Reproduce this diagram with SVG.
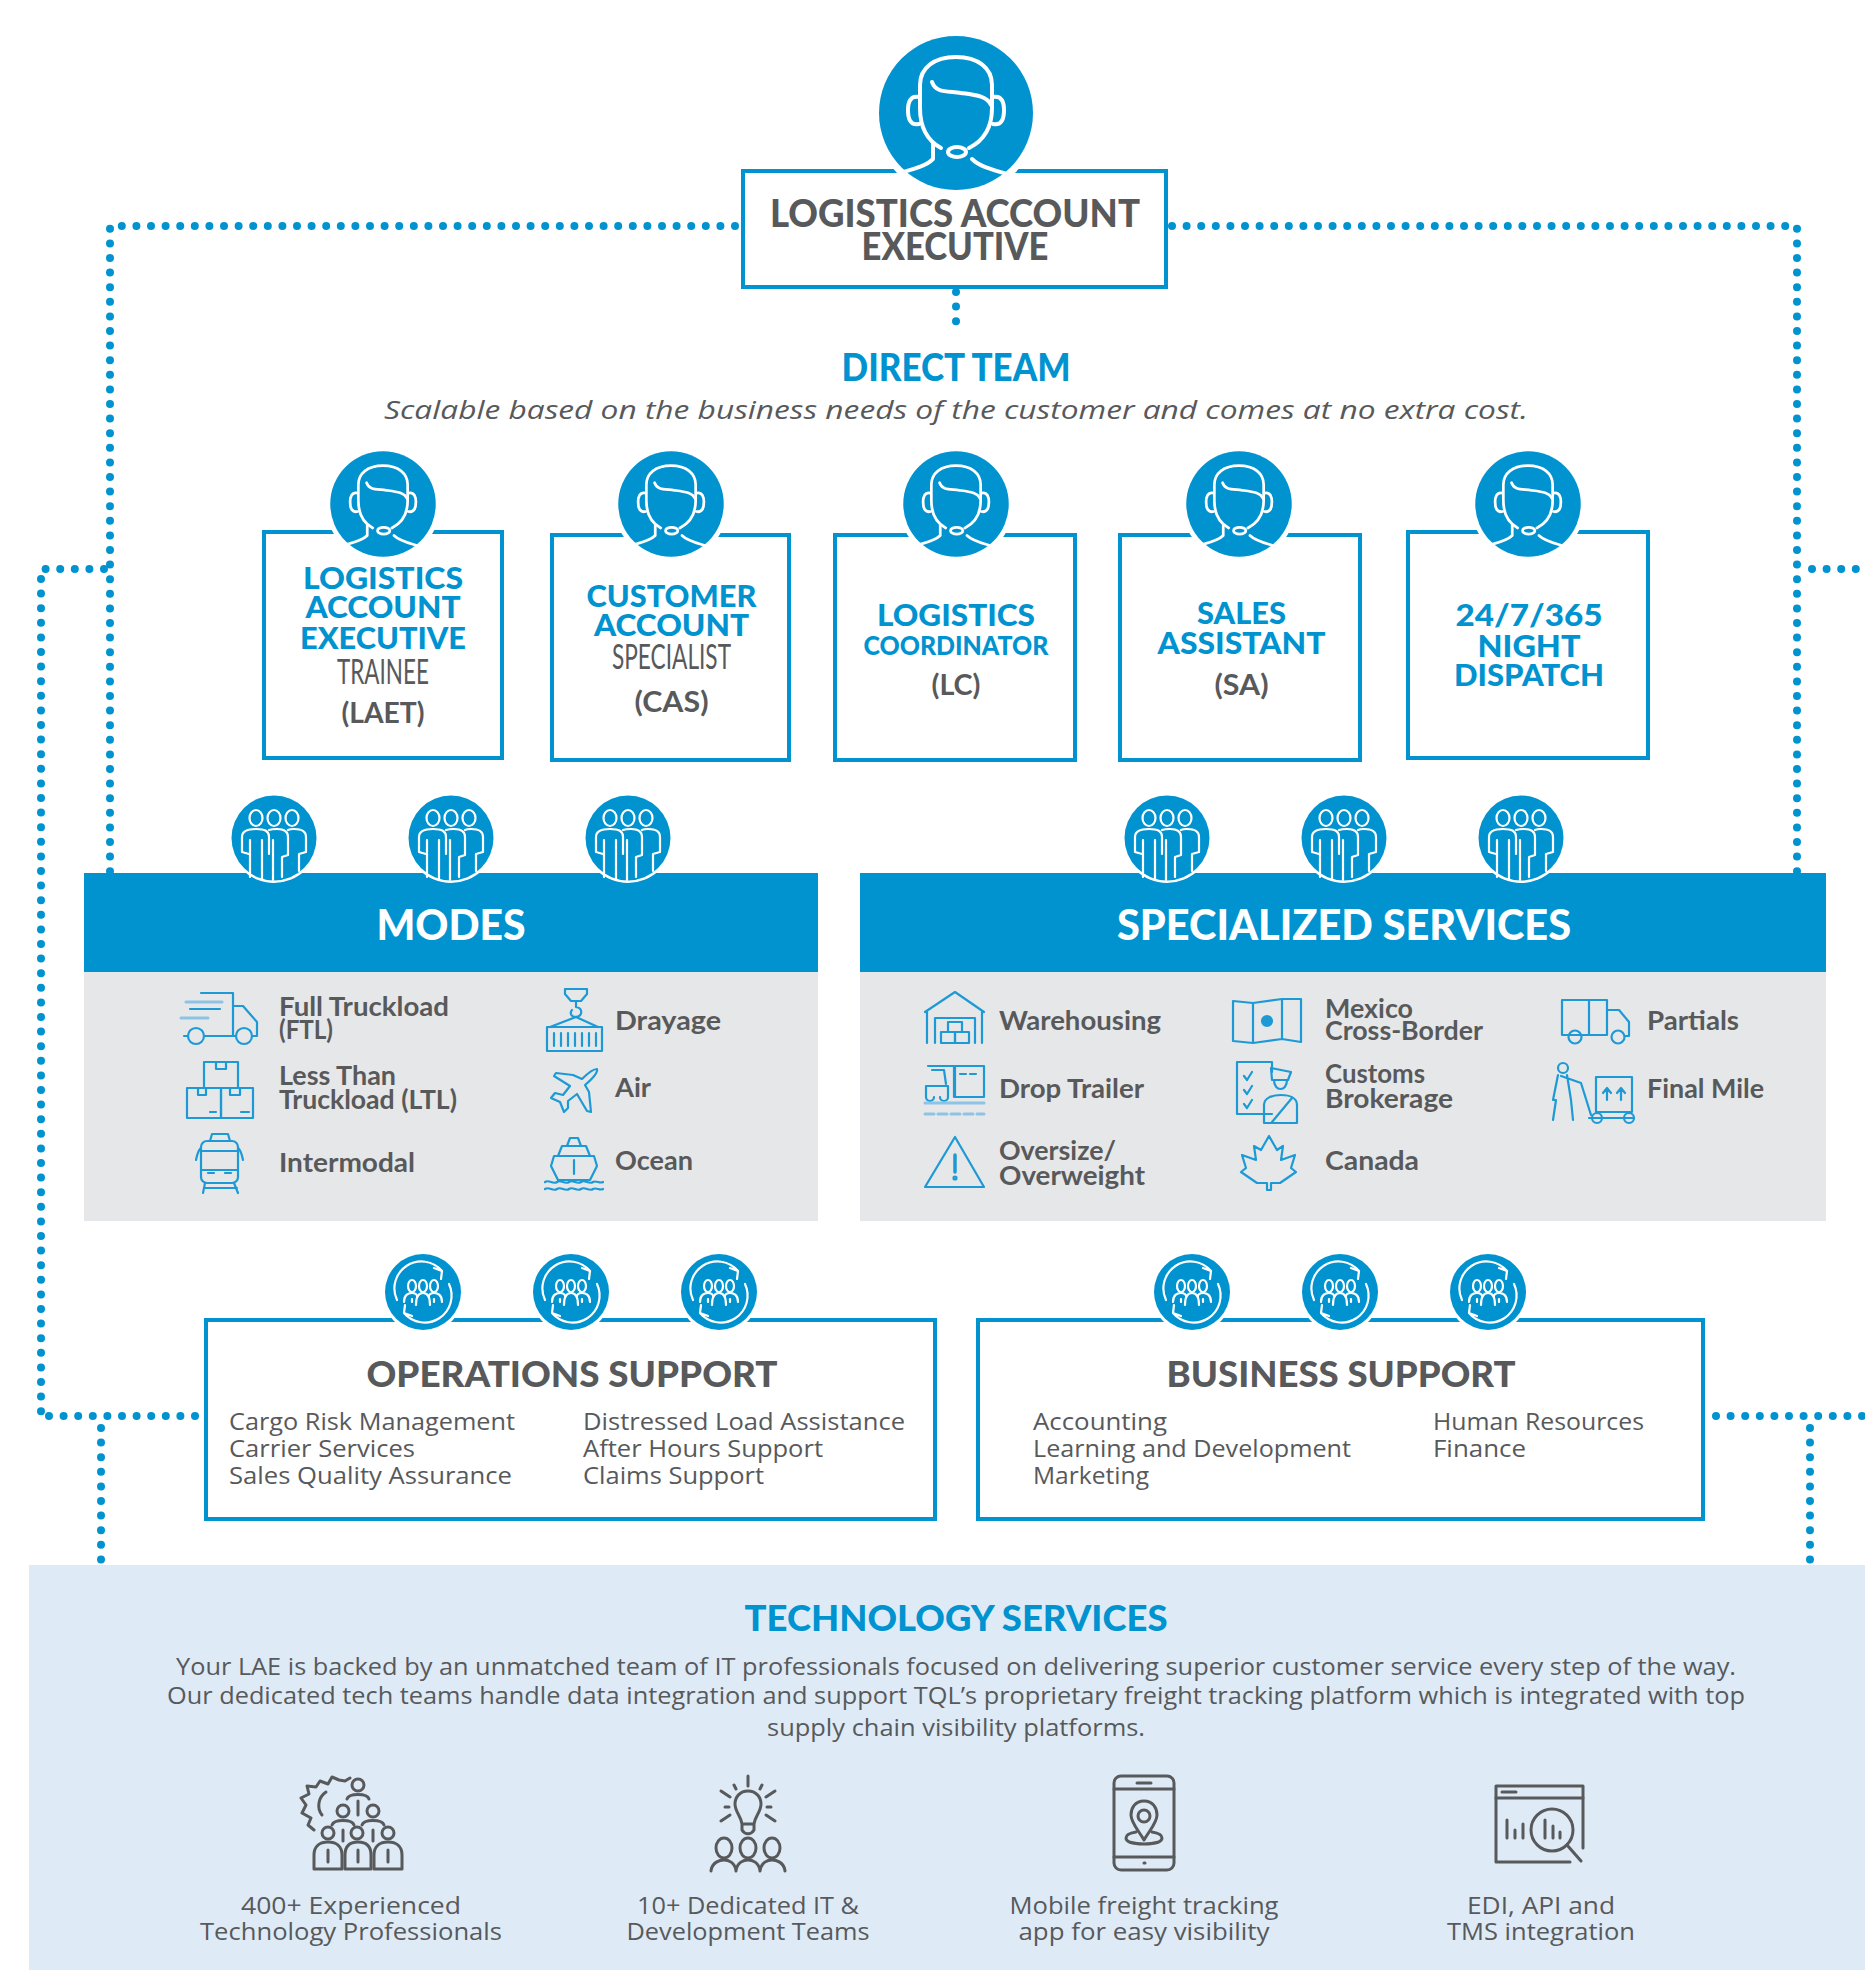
<svg xmlns="http://www.w3.org/2000/svg" xmlns:xlink="http://www.w3.org/1999/xlink" width="1865" height="1970" viewBox="0 0 1865 1970">
<style>
text{font-family:"Lato","Liberation Sans",sans-serif;fill:#58595b}
.m{text-anchor:middle}
.h{font-weight:900}
.b{font-weight:700}
.blue{fill:#0093d0}
.w{fill:#fff}
.big{font-size:38px;font-weight:900}
.t{font-size:31px;font-weight:900;fill:#0093d0;text-anchor:middle}
.n{font-size:35px;font-weight:400;text-anchor:middle;fill:#58595b}
.a{font-size:29px;font-weight:700;text-anchor:middle;fill:#58595b}
.i{font-size:26px;font-weight:700}
.l{font-family:"Open Sans","Liberation Sans",sans-serif;font-size:24px}
.p{font-family:"Open Sans","Liberation Sans",sans-serif;font-size:24px;text-anchor:middle}
.box{fill:#fff;stroke:#0093d0;stroke-width:4}
.dot{fill:none;stroke:#0093d0;stroke-width:8;stroke-linecap:round;stroke-dasharray:0 14.6}
.ic{fill:none;stroke:#1d9ad6;stroke-width:2.2;stroke-linejoin:round;stroke-linecap:round}
.lt{fill:none;stroke:#8cc4e6;stroke-width:3}
.g{fill:none;stroke:#58595b;stroke-width:3;stroke-linejoin:round;stroke-linecap:round}
.wl{fill:none;stroke:#fff;stroke-linecap:round;stroke-linejoin:round}
</style>
<defs>
<g id="agent">
<circle r="84" fill="#fff"/>
<circle r="77" fill="#0093d0"/>
<g class="wl" stroke-width="4">
<path d="M-15,35C-28,28-36,15-36,-5L-36,-28C-36,-45-22,-56 0,-56C22,-56 36,-45 36,-28L36,-5C36,15 27,28 13,35"/>
<path d="M-24,-31C-20,-20-10,-22 5,-20C20,-18 31,-17 35,-8"/>
<path d="M-37,-16C-46,-18-48,-10-48,-3C-48,5-46,13-37,11"/>
<path d="M37,-16C46,-18 48,-10 48,-3C48,5 46,13 37,11"/>
<ellipse cx="1" cy="39" rx="9" ry="5"/>
<path d="M-23,31L-23,46C-30,53-42,56-53,59"/>
<path d="M16,46C24,54 38,57 51,61"/>
</g>
</g>
<g id="team">
<circle r="45" fill="#fff"/>
<circle r="42.500" fill="#0093d0"/>
<g class="wl" stroke-width="2.2">
<ellipse cx="-18" cy="-20" rx="6.500" ry="8"/>
<ellipse cx="0" cy="-20" rx="6.500" ry="8"/>
<ellipse cx="18" cy="-20" rx="6.500" ry="8"/>
<path d="M-25,16L-32,14L-32,-1C-32,-7-27,-9-18,-9C-9,-9-5,-7-5,-1L-5,16"/>
<path d="M-24,2L-24,39M-12,2L-12,41"/>
<path d="M-5,-8C-2,-9 0,-9 3,-9C10,-9 14,-7 14,-1L14,17L8,19L8,39"/>
<path d="M-1,2L-1,42"/>
<path d="M14,-8C16,-9 18,-9 20,-9C28,-9 32,-7 32,-1L32,14L25,16L25,33"/>
</g>
</g>
<g id="sync">
<circle r="41" fill="#fff"/>
<circle r="38" fill="#0093d0"/>
<g class="wl" stroke-width="2.2">
<path d="M-26,8A27,27 0 0 1 19,-21M19,-21L11,-24M19,-21L18,-13"/>
<path d="M26,-8A27,27 0 0 1 -19,21M-19,21L-11,24M-19,21L-18,13"/>
<ellipse cx="-11" cy="-6" rx="4" ry="6"/>
<ellipse cx="0" cy="-6" rx="4" ry="6"/>
<ellipse cx="11" cy="-6" rx="4" ry="6"/>
<path d="M-19,10C-19,3-15,1-11,1C-8,1-6,2-5.500,5M-11,10L-11,7"/>
<path d="M-7,13C-7,4-4,1 0,1C4,1 7,4 7,13"/>
<path d="M19,10C19,3 15,1 11,1C8,1 6,2 5.500,5M11,10L11,7"/>
</g>
</g>
</defs>

<rect width="1865" height="1970" fill="#fff"/>

<g id="connectors">
<path class="dot" d="M735,226L110,226L110,872"/>
<path class="dot" d="M1172,226L1797,226L1797,872"/>
<path class="dot" d="M956,292L956,335"/>
<path class="dot" d="M104,569L41,569L41,1416"/>
<path class="dot" d="M195,1416L41,1416"/>
<path class="dot" d="M101,1428L101,1562"/>
<path class="dot" d="M1812,569L1865,569"/>
<path class="dot" d="M1716,1416L1865,1416"/>
<path class="dot" d="M1810,1428L1810,1562"/>
</g>

<g id="lae">
<rect class="box" x="743" y="171" width="423" height="116"/>
<use href="#agent" transform="translate(956,113)"/>
<text class="big m"><tspan class="m" x="955" y="227" textLength="370" lengthAdjust="spacingAndGlyphs">LOGISTICS ACCOUNT</tspan><tspan class="m" x="955" y="260" textLength="187" lengthAdjust="spacingAndGlyphs">EXECUTIVE</tspan></text>
</g>

<g id="direct-team">
<text class="m h blue" font-size="38" x="956" y="381" textLength="229" lengthAdjust="spacingAndGlyphs">DIRECT TEAM</text>
<text class="m" x="956" y="419" font-size="26" font-style="italic" style="font-family:'Open Sans','Liberation Sans',sans-serif" textLength="1144" lengthAdjust="spacingAndGlyphs">Scalable based on the business needs of the customer and comes at no extra cost.</text>
</g>

<g id="laet">
<rect class="box" x="264" y="532" width="238" height="226"/>
<use href="#agent" transform="translate(383,504) scale(.685)"/>
<text class="t"><tspan class="t" x="383" y="589" textLength="160" lengthAdjust="spacingAndGlyphs">LOGISTICS</tspan><tspan class="t" x="383" y="618" textLength="155" lengthAdjust="spacingAndGlyphs">ACCOUNT</tspan><tspan class="t" x="383" y="649" textLength="166" lengthAdjust="spacingAndGlyphs">EXECUTIVE</tspan><tspan class="n" x="383" y="684" textLength="92" lengthAdjust="spacingAndGlyphs">TRAINEE</tspan><tspan class="a" x="383" y="723" textLength="83" lengthAdjust="spacingAndGlyphs">(LAET)</tspan></text>
</g>
<g id="cas">
<rect class="box" x="552" y="535" width="237" height="225"/>
<use href="#agent" transform="translate(671,504) scale(.685)"/>
<text class="t"><tspan class="t" x="671.500" y="607" textLength="170" lengthAdjust="spacingAndGlyphs">CUSTOMER</tspan><tspan class="t" x="671.500" y="636" textLength="155" lengthAdjust="spacingAndGlyphs">ACCOUNT</tspan><tspan class="n" x="671.500" y="669" textLength="119" lengthAdjust="spacingAndGlyphs">SPECIALIST</tspan><tspan class="a" x="671.500" y="712" textLength="74" lengthAdjust="spacingAndGlyphs">(CAS)</tspan></text>
</g>
<g id="lc">
<rect class="box" x="835" y="535" width="240" height="225"/>
<use href="#agent" transform="translate(956,504) scale(.685)"/>
<text class="t"><tspan class="t" x="956" y="626" textLength="158" lengthAdjust="spacingAndGlyphs">LOGISTICS</tspan><tspan class="t" style="font-size:26px" x="956" y="655" textLength="185" lengthAdjust="spacingAndGlyphs">COORDINATOR</tspan><tspan class="a" x="956" y="695" textLength="49" lengthAdjust="spacingAndGlyphs">(LC)</tspan></text>
</g>
<g id="sa">
<rect class="box" x="1120" y="535" width="240" height="225"/>
<use href="#agent" transform="translate(1239,504) scale(.685)"/>
<text class="t"><tspan class="t" x="1241.500" y="624" textLength="89" lengthAdjust="spacingAndGlyphs">SALES</tspan><tspan class="t" x="1241.500" y="654" textLength="168" lengthAdjust="spacingAndGlyphs">ASSISTANT</tspan><tspan class="a" x="1241.500" y="695" textLength="54" lengthAdjust="spacingAndGlyphs">(SA)</tspan></text>
</g>
<g id="dispatch">
<rect class="box" x="1408" y="532" width="240" height="226"/>
<use href="#agent" transform="translate(1528,504) scale(.685)"/>
<text class="t"><tspan class="t" x="1529" y="626" textLength="147" lengthAdjust="spacingAndGlyphs">24/7/365</tspan><tspan class="t" x="1529" y="657" textLength="103" lengthAdjust="spacingAndGlyphs">NIGHT</tspan><tspan class="t" x="1529" y="686" textLength="150" lengthAdjust="spacingAndGlyphs">DISPATCH</tspan></text>
</g>

<g id="modes">
<rect x="84" y="873" width="734" height="99" fill="#0093d0"/>
<rect x="84" y="972" width="734" height="249" fill="#e6e7e8"/>
<use href="#team" transform="translate(274,838)"/>
<use href="#team" transform="translate(451,838)"/>
<use href="#team" transform="translate(628,838)"/>
<text class="m h w" x="451" y="940" font-size="42" textLength="149" lengthAdjust="spacingAndGlyphs">MODES</text>
<g class="ic">
<path d="M201,993L233,993L233,1036M233,1006L243,1006L257,1022L257,1036L252,1036M236,1036L204,1036M188,1036L184,1036"/>
<circle cx="196" cy="1036" r="8"/><circle cx="244" cy="1036" r="8"/>
<path d="M190,1009L220,1009"/>
<path class="lt" d="M186,1002L222,1002M181,1018L208,1018"/>
<rect x="204" y="1062" width="34" height="26"/><rect x="187" y="1088" width="34" height="30"/><rect x="221" y="1088" width="32" height="30"/>
<path d="M216,1062V1069H226V1062M198,1088V1095H206V1088M230,1088V1095H240V1088M210,1112H216M241,1112H249"/>
<rect x="201" y="1141" width="37" height="42" rx="6"/>
<path d="M212,1134H228L230,1141H210ZM201,1151H238M201,1170H238M208,1173H214M225,1173H231M205,1183L203,1193M234,1183L238,1193M204,1188H237M196,1160C197,1155 198,1150 201,1148M243,1160C242,1155 241,1150 238,1148"/>
<path d="M565,989H587V994L581,1001H571L565,994ZM576,1001V1007C583,1008 583,1016 576,1017C570,1017 570,1012 572,1010M576,1017L550,1027M576,1017L598,1027"/>
<rect x="547" y="1027" width="55" height="24"/>
<path d="M554,1033V1046M561,1033V1046M568,1033V1046M575,1033V1046M582,1033V1046M589,1033V1046M596,1033V1046"/>
<path d="M597,1069C593,1069 587,1074 582,1079L573,1075L556,1073L554,1076L570,1086L563,1095L555,1093L551,1098L560,1102L564,1112L568,1108L568,1101L577,1094L587,1111L591,1112L589,1092L585,1085C591,1080 598,1073 597,1069Z"/>
<path d="M570,1138H578L581,1146H567ZM562,1146H586L590,1156H558ZM554,1156H594L597,1166L590,1180H558L551,1166ZM574,1160V1174M545,1182C549,1179 553,1185 557,1182C561,1179 565,1185 569,1182C573,1179 577,1185 581,1182C585,1179 589,1185 593,1182C596,1180 600,1184 603,1182M545,1189C549,1186 553,1192 557,1189C561,1186 565,1192 569,1189C573,1186 577,1192 581,1189C585,1186 589,1192 593,1189C596,1187 600,1191 603,1189"/>
</g>
<text class="i"><tspan x="279" y="1016" textLength="170" lengthAdjust="spacingAndGlyphs">Full Truckload</tspan><tspan x="279" y="1039" textLength="54" lengthAdjust="spacingAndGlyphs">(FTL)</tspan></text>
<text class="i"><tspan x="279" y="1085" textLength="117" lengthAdjust="spacingAndGlyphs">Less Than</tspan><tspan x="279" y="1109" textLength="178" lengthAdjust="spacingAndGlyphs">Truckload (LTL)</tspan></text>
<text class="i" x="279" y="1172" textLength="136" lengthAdjust="spacingAndGlyphs">Intermodal</text>
<text class="i" x="615" y="1030" textLength="106" lengthAdjust="spacingAndGlyphs">Drayage</text>
<text class="i" x="615" y="1097" textLength="36" lengthAdjust="spacingAndGlyphs">Air</text>
<text class="i" x="615" y="1170" textLength="78" lengthAdjust="spacingAndGlyphs">Ocean</text>
</g>

<g id="specialized-services">
<rect x="860" y="873" width="966" height="99" fill="#0093d0"/>
<rect x="860" y="972" width="966" height="249" fill="#e6e7e8"/>
<use href="#team" transform="translate(1167,838)"/>
<use href="#team" transform="translate(1344,838)"/>
<use href="#team" transform="translate(1521,838)"/>
<text class="m h w" x="1344" y="940" font-size="42" textLength="454" lengthAdjust="spacingAndGlyphs">SPECIALIZED SERVICES</text>
<g class="ic">
<path d="M925,1012L955,992L984,1012M927,1012V1043M982,1012V1043M935,1043V1018H975V1043"/>
<rect x="948" y="1022" width="14" height="10"/><rect x="941" y="1032" width="14" height="11"/><rect x="955" y="1032" width="14" height="11"/>
<rect x="955" y="1066" width="29" height="31"/>
<path d="M928,1066H954V1097M926,1097V1086H948V1097M926,1097A4,4 0 0 0 934,1097M940,1097A4,4 0 0 0 948,1097M932,1070L944,1070L946,1084M960,1074H966M970,1074H976"/>
<path class="lt" d="M925,1103H984"/>
<path class="lt" d="M925,1114H984" stroke-dasharray="9 4"/>
<path d="M955,1137L984,1187H925Z"/>
<path d="M955,1155V1172" stroke-width="3.500"/><circle cx="955" cy="1178" r="1.500"/>
<g transform="translate(-5,0)">
<path d="M1238,1001L1258,1003V1043L1238,1041ZM1258,1003L1287,999V1039L1258,1043ZM1287,999L1306,999V1042L1287,1039Z"/>
<circle cx="1272" cy="1021" r="5" fill="#1d9ad6"/>
</g>
<g transform="translate(-6,0)">
<path d="M1278,1114H1243V1062H1278V1072M1250,1076L1253,1080L1258,1072M1250,1090L1253,1094L1258,1086M1250,1104L1253,1108L1258,1100"/>
<path d="M1277,1068L1297,1072L1294,1080H1278ZM1280,1080C1280,1092 1293,1092 1293,1080M1270,1123V1105C1270,1098 1278,1095 1287,1095C1296,1095 1303,1098 1303,1105V1123H1270M1278,1122L1298,1098"/>
</g>
<path transform="translate(-5,0)" d="M1274,1136L1282,1150L1288,1146L1286,1160L1300,1155L1296,1168L1301,1172L1285,1183H1276V1190H1272V1183H1262L1246,1172L1251,1168L1247,1155L1261,1160L1259,1146L1266,1150Z"/>
<g transform="translate(-11,0)">
<rect x="1573" y="1000" width="45" height="35"/>
<path d="M1600,1000V1035M1618,1010H1630L1640,1022V1036H1636"/>
<circle cx="1586" cy="1037" r="6.500"/><circle cx="1629" cy="1037" r="6.500"/>
<circle cx="1574" cy="1068" r="5"/>
<path d="M1569,1075L1564,1100L1566,1100M1578,1075L1582,1100L1584,1120M1567,1100L1564,1120M1572,1076L1592,1083L1602,1115M1600,1118H1645"/>
<rect x="1607" y="1077" width="36" height="35"/>
<path d="M1618,1100V1090M1632,1100V1090M1614,1093L1618,1088L1622,1093M1628,1093L1632,1088L1636,1093"/>
<circle cx="1608" cy="1118" r="5"/><circle cx="1640" cy="1118" r="5"/>
</g>
</g>
<text class="i" x="999" y="1030" textLength="162" lengthAdjust="spacingAndGlyphs">Warehousing</text>
<text class="i" x="999" y="1098" textLength="145" lengthAdjust="spacingAndGlyphs">Drop Trailer</text>
<text class="i"><tspan x="999" y="1160" textLength="117" lengthAdjust="spacingAndGlyphs">Oversize/</tspan><tspan x="999" y="1185" textLength="146" lengthAdjust="spacingAndGlyphs">Overweight</tspan></text>
<text class="i"><tspan x="1325" y="1018" textLength="88" lengthAdjust="spacingAndGlyphs">Mexico</tspan><tspan x="1325" y="1040" textLength="158" lengthAdjust="spacingAndGlyphs">Cross-Border</tspan></text>
<text class="i"><tspan x="1325" y="1083" textLength="100" lengthAdjust="spacingAndGlyphs">Customs</tspan><tspan x="1325" y="1108" textLength="128" lengthAdjust="spacingAndGlyphs">Brokerage</tspan></text>
<text class="i" x="1325" y="1170" textLength="94" lengthAdjust="spacingAndGlyphs">Canada</text>
<text class="i" x="1647" y="1030" textLength="92" lengthAdjust="spacingAndGlyphs">Partials</text>
<text class="i" x="1647" y="1098" textLength="117" lengthAdjust="spacingAndGlyphs">Final Mile</text>
</g>

<g id="operations-support">
<rect class="box" x="206" y="1320" width="729" height="199"/>
<use href="#sync" transform="translate(423,1292)"/>
<use href="#sync" transform="translate(571,1292)"/>
<use href="#sync" transform="translate(719,1292)"/>
<text class="m h" x="572" y="1387" font-size="36" textLength="411" lengthAdjust="spacingAndGlyphs">OPERATIONS SUPPORT</text>
<text class="l"><tspan x="229" y="1430" textLength="286" lengthAdjust="spacingAndGlyphs">Cargo Risk Management</tspan><tspan x="229" y="1457" textLength="186" lengthAdjust="spacingAndGlyphs">Carrier Services</tspan><tspan x="229" y="1484" textLength="283" lengthAdjust="spacingAndGlyphs">Sales Quality Assurance</tspan></text>
<text class="l"><tspan x="583" y="1430" textLength="322" lengthAdjust="spacingAndGlyphs">Distressed Load Assistance</tspan><tspan x="583" y="1457" textLength="240" lengthAdjust="spacingAndGlyphs">After Hours Support</tspan><tspan x="583" y="1484" textLength="181" lengthAdjust="spacingAndGlyphs">Claims Support</tspan></text>
</g>

<g id="business-support">
<rect class="box" x="978" y="1320" width="725" height="199"/>
<use href="#sync" transform="translate(1192,1292)"/>
<use href="#sync" transform="translate(1340,1292)"/>
<use href="#sync" transform="translate(1488,1292)"/>
<text class="m h" x="1341" y="1387" font-size="36" textLength="349" lengthAdjust="spacingAndGlyphs">BUSINESS SUPPORT</text>
<text class="l"><tspan x="1033" y="1430" textLength="134" lengthAdjust="spacingAndGlyphs">Accounting</tspan><tspan x="1033" y="1457" textLength="318" lengthAdjust="spacingAndGlyphs">Learning and Development</tspan><tspan x="1033" y="1484" textLength="116" lengthAdjust="spacingAndGlyphs">Marketing</tspan></text>
<text class="l"><tspan x="1433" y="1430" textLength="211" lengthAdjust="spacingAndGlyphs">Human Resources</tspan><tspan x="1433" y="1457" textLength="93" lengthAdjust="spacingAndGlyphs">Finance</tspan></text>
</g>

<g id="technology-services">
<rect x="29" y="1565" width="1836" height="405" fill="#deebf7"/>
<text class="m h blue" x="956" y="1631" font-size="36" textLength="423" lengthAdjust="spacingAndGlyphs">TECHNOLOGY SERVICES</text>
<text class="p"><tspan x="956" y="1675" textLength="1560" lengthAdjust="spacingAndGlyphs" class="p">Your LAE is backed by an unmatched team of IT professionals focused on delivering superior customer service every step of the way.</tspan><tspan x="956" y="1704" textLength="1578" lengthAdjust="spacingAndGlyphs" class="p">Our dedicated tech teams handle data integration and support TQL’s proprietary freight tracking platform which is integrated with top</tspan><tspan x="956" y="1736" textLength="378" lengthAdjust="spacingAndGlyphs" class="p">supply chain visibility platforms.</tspan></text>
<g class="g">
<path d="M314,1830L308,1825L311,1818L302,1813L306,1805L301,1798L309,1794L307,1786L316,1787L320,1781L328,1784L332,1777L339,1780L345,1781L350,1778"/>
<path d="M326,1792A16,16 0 0 0 322,1815"/>
<circle cx="358" cy="1785" r="6"/><path d="M347,1799C349,1793 367,1793 369,1799"/>
<circle cx="343" cy="1811" r="6"/><path d="M332,1825C334,1819 352,1819 354,1825"/>
<circle cx="373" cy="1811" r="6"/><path d="M362,1825C364,1819 382,1819 384,1825"/>
<path d="M358,1801V1815M343,1830V1841M373,1830V1841"/>
<circle cx="328" cy="1833" r="6"/><circle cx="357" cy="1833" r="6"/><circle cx="388" cy="1833" r="6"/>
<path d="M314,1869V1855C314,1846 320,1842 328,1842C336,1842 342,1846 342,1855V1869Z"/>
<path d="M345,1869V1855C345,1846 350,1842 358,1842C366,1842 371,1846 371,1855V1869Z"/>
<path d="M374,1869V1855C374,1846 380,1842 388,1842C396,1842 402,1846 402,1855V1869Z"/>
<path d="M328,1850V1862M358,1850V1862M388,1850V1862"/>
<path d="M748,1791C740,1791 735,1797 735,1804C735,1812 741,1816 742,1824H754C755,1816 761,1812 761,1804C761,1797 756,1791 748,1791ZM742,1824V1830C745,1835 751,1835 754,1830V1824"/>
<path d="M748,1776V1786M721,1791L730,1797M775,1791L766,1797M725,1807H729M767,1807H771M721,1821L730,1815M775,1821L766,1815M734,1785L736,1789M762,1785L760,1789"/>
<ellipse cx="724" cy="1848" rx="8" ry="10"/><ellipse cx="748" cy="1848" rx="8" ry="10"/><ellipse cx="772" cy="1848" rx="8" ry="10"/>
<path d="M711,1871C712,1862 720,1860 724,1860C728,1860 735,1862 736,1871M736,1871C737,1862 744,1860 748,1860C752,1860 759,1862 760,1871M760,1871C761,1862 768,1860 772,1860C776,1860 784,1862 785,1871"/>
<rect x="1114" y="1776" width="60" height="94" rx="7"/>
<path d="M1114,1789H1174M1114,1857H1174M1137,1783H1151"/>
<path d="M1144,1801C1135,1801 1131,1808 1131,1815C1131,1823 1139,1831 1144,1840C1149,1831 1157,1823 1157,1815C1157,1808 1153,1801 1144,1801Z"/>
<circle cx="1144" cy="1816" r="6"/>
<path d="M1136,1832C1130,1833 1126,1835 1126,1838C1126,1842 1134,1844 1144,1844C1154,1844 1162,1842 1162,1838C1162,1835 1158,1833 1152,1832"/>
<path d="M1144,1863H1145"/>
<path d="M1585,1848V1786H1498V1862H1572" transform="translate(-2,0)"/>
<path d="M1496,1798H1583M1502,1792H1516"/>
<circle cx="1552" cy="1830" r="21"/>
<path d="M1567,1845L1581,1861M1507,1820V1838M1515,1830V1838M1523,1824V1838M1545,1820V1838M1553,1826V1838M1560,1832V1838"/>
</g>
<text class="p"><tspan class="p" x="351" y="1914" textLength="220" lengthAdjust="spacingAndGlyphs">400+ Experienced</tspan><tspan class="p" x="351" y="1940" textLength="302" lengthAdjust="spacingAndGlyphs">Technology Professionals</tspan></text>
<text class="p"><tspan class="p" x="748" y="1914" textLength="222" lengthAdjust="spacingAndGlyphs">10+ Dedicated IT &amp;</tspan><tspan class="p" x="748" y="1940" textLength="243" lengthAdjust="spacingAndGlyphs">Development Teams</tspan></text>
<text class="p"><tspan class="p" x="1144" y="1914" textLength="269" lengthAdjust="spacingAndGlyphs">Mobile freight tracking</tspan><tspan class="p" x="1144" y="1940" textLength="251" lengthAdjust="spacingAndGlyphs">app for easy visibility</tspan></text>
<text class="p"><tspan class="p" x="1541" y="1914" textLength="148" lengthAdjust="spacingAndGlyphs">EDI, API and</tspan><tspan class="p" x="1541" y="1940" textLength="188" lengthAdjust="spacingAndGlyphs">TMS integration</tspan></text>
</g>
</svg>
